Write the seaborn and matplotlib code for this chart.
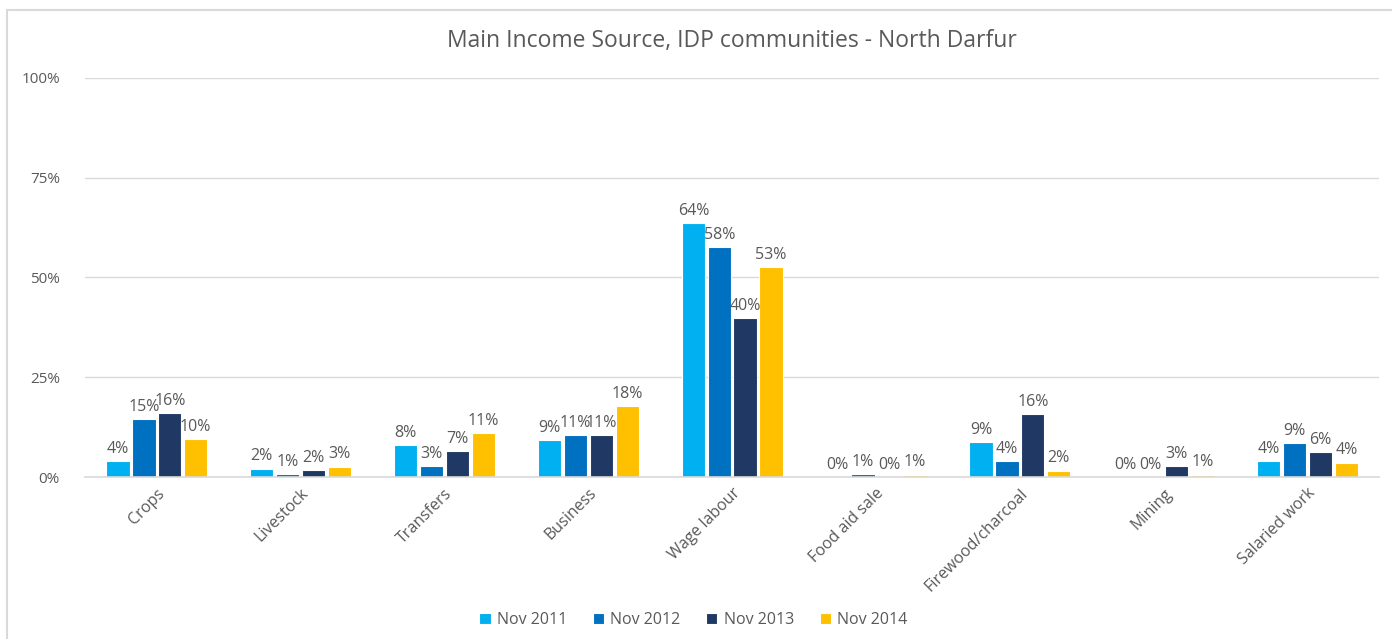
import matplotlib
matplotlib.use("Agg")
import matplotlib.pyplot as plt
import seaborn as sns
import pandas as pd
from matplotlib.patches import Rectangle
from matplotlib.ticker import FuncFormatter

categories = ["Crops", "Livestock", "Transfers", "Business", "Wage labour",
              "Food aid sale", "Firewood/charcoal", "Mining", "Salaried work"]
series_names = ["Nov 2011", "Nov 2012", "Nov 2013", "Nov 2014"]
nov2011 = [0.040, 0.021, 0.080, 0.093, 0.637, 0.000, 0.087, 0.000, 0.040]
nov2012 = [0.146, 0.008, 0.027, 0.106, 0.576, 0.008, 0.040, 0.000, 0.086]
nov2013 = [0.160, 0.018, 0.066, 0.106, 0.398, 0.000, 0.158, 0.027, 0.062]
nov2014 = [0.095, 0.026, 0.110, 0.178, 0.526, 0.006, 0.016, 0.006, 0.036]
colors = ["#00B0F0", "#0070C0", "#1F3864", "#FFC000"]
yticks = [0, 0.25, 0.5, 0.75, 1.0]

rows = []
for name, vals in zip(series_names, [nov2011, nov2012, nov2013, nov2014]):
    for c, v in zip(categories, vals):
        rows.append({"Source": c, "Period": name, "Share": v})
df = pd.DataFrame(rows)

sns.set_theme(style="white")
plt.rcParams["font.family"] = ["Open Sans", "DejaVu Sans"]
txt = "#595959"

fig = plt.figure(figsize=(13.92, 6.39), dpi=100)
ax = fig.add_axes([0.061, 0.2535, 0.930, 0.6245])

sns.barplot(data=df, x="Source", y="Share", hue="Period", order=categories,
            hue_order=series_names, palette=colors, saturation=1,
            width=0.72, gap=0.1, edgecolor="white", linewidth=0.8, ax=ax,
            legend=True)

for cont in ax.containers:
    labels = [f"{round(b.get_height()*100)}%" for b in cont]
    ax.bar_label(cont, labels=labels, padding=3, fontsize=11.5, color=txt)

ax.set_ylim(0, 1.0)
ax.set_yticks(yticks)
ax.yaxis.set_major_formatter(FuncFormatter(lambda v, p: f"{int(round(v*100))}%"))
ax.grid(axis="y", color="#d9d9d9", linewidth=1)
ax.set_axisbelow(True)
for s in ["top", "right", "left"]:
    ax.spines[s].set_visible(False)
ax.spines["bottom"].set_color("#d9d9d9")
ax.spines["bottom"].set_linewidth(1.2)
ax.tick_params(axis="y", length=0, labelsize=11, labelcolor=txt, pad=18)
ax.tick_params(axis="x", length=0, labelsize=11.5, labelcolor=txt, pad=6)
ax.set_xlabel("")
ax.set_ylabel("")
ax.set_xlim(-0.5, len(categories) - 0.5)
plt.setp(ax.get_xticklabels(), rotation=45, ha="right", rotation_mode="anchor")

ax.set_title("Main Income Source, IDP communities - North Darfur", fontsize=16.5,
             color=txt, pad=22)

ax.legend(loc="lower center", bbox_to_anchor=(0.47, -0.415), ncol=4,
          frameon=False, fontsize=11.5, labelcolor=txt, handlelength=0.7,
          handleheight=0.7, handletextpad=0.4, columnspacing=1.6)

fig.patches.append(Rectangle((7/1392, -0.02), 1.2, 1 - 10/639 + 0.02,
                             transform=fig.transFigure, fill=False,
                             edgecolor="#d9d9d9", linewidth=1.5))

fig.savefig("out.png", dpi=100, facecolor="white")
